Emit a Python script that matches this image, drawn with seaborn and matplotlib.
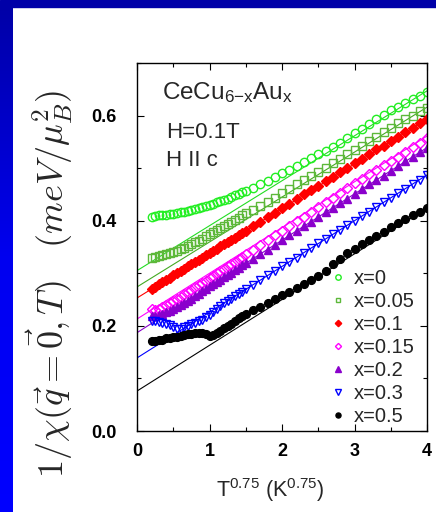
import numpy as np
import pandas as pd
import matplotlib
matplotlib.use("Agg")
import matplotlib.pyplot as plt
from matplotlib.colors import LinearSegmentedColormap
from matplotlib.patches import Rectangle
from matplotlib.ticker import MultipleLocator
import seaborn as sns


# ── Data ───────────────────────────────────────────────────────────────────────
# x axis: T^0.75 in K^0.75, shared by all samples
t075 = [0.20, 0.25, 0.30, 0.35, 0.40, 0.45, 0.50, 0.55, 0.60, 0.65, 0.70, 0.75, 0.80,
        0.85, 0.90, 0.95, 1.00, 1.05, 1.10, 1.15, 1.20, 1.25, 1.30, 1.35, 1.40, 1.45,
        1.50, 1.6, 1.7, 1.8, 1.9, 2.0, 2.1, 2.2, 2.3, 2.4, 2.5, 2.6, 2.7, 2.8, 2.9,
        3.0, 3.1, 3.2, 3.3, 3.4, 3.5, 3.6, 3.7, 3.8, 3.9, 4.0]

# 1/chi (meV/muB^2) for each Au content
inv_chi_x000 = [0.408, 0.409, 0.410, 0.410, 0.411, 0.412, 0.413, 0.414, 0.416, 0.417,
                0.419, 0.420, 0.422, 0.424, 0.426, 0.428, 0.430, 0.432, 0.435, 0.437,
                0.440, 0.442, 0.445, 0.448, 0.451, 0.454, 0.457, 0.463, 0.469, 0.476,
                0.483, 0.490, 0.497, 0.504, 0.511, 0.519, 0.526, 0.533, 0.541, 0.548,
                0.557, 0.566, 0.575, 0.584, 0.593, 0.602, 0.610, 0.617, 0.624, 0.631,
                0.638, 0.645]
inv_chi_x005 = [0.330, 0.331, 0.332, 0.334, 0.336, 0.338, 0.340, 0.343, 0.346, 0.349,
                0.352, 0.355, 0.359, 0.362, 0.366, 0.370, 0.374, 0.378, 0.382, 0.386,
                0.390, 0.394, 0.398, 0.402, 0.406, 0.410, 0.414, 0.421, 0.428, 0.436,
                0.444, 0.453, 0.461, 0.469, 0.477, 0.485, 0.493, 0.501, 0.509, 0.517,
                0.526, 0.534, 0.543, 0.551, 0.559, 0.568, 0.577, 0.585, 0.593, 0.600,
                0.608, 0.615]
inv_chi_x010 = [0.270, 0.274, 0.279, 0.283, 0.287, 0.291, 0.296, 0.300, 0.304, 0.308,
                0.313, 0.317, 0.321, 0.325, 0.330, 0.334, 0.338, 0.342, 0.347, 0.351,
                0.355, 0.359, 0.364, 0.368, 0.372, 0.376, 0.381, 0.389, 0.398, 0.407,
                0.415, 0.424, 0.432, 0.441, 0.451, 0.458, 0.466, 0.475, 0.483, 0.492,
                0.500, 0.509, 0.517, 0.526, 0.537, 0.543, 0.551, 0.560, 0.568, 0.577,
                0.585, 0.594]
inv_chi_x015 = [0.233, 0.231, 0.232, 0.235, 0.239, 0.243, 0.247, 0.251, 0.255, 0.260,
                0.264, 0.268, 0.273, 0.277, 0.282, 0.286, 0.291, 0.295, 0.300, 0.304,
                0.309, 0.313, 0.318, 0.322, 0.327, 0.331, 0.336, 0.345, 0.354, 0.363,
                0.372, 0.381, 0.390, 0.399, 0.408, 0.417, 0.426, 0.435, 0.444, 0.453,
                0.462, 0.471, 0.480, 0.488, 0.497, 0.506, 0.514, 0.522, 0.531, 0.540,
                0.548, 0.557]
inv_chi_x020 = [0.218, 0.219, 0.221, 0.223, 0.226, 0.229, 0.232, 0.236, 0.240, 0.244,
                0.248, 0.252, 0.257, 0.261, 0.266, 0.270, 0.275, 0.279, 0.284, 0.288,
                0.293, 0.297, 0.301, 0.306, 0.310, 0.315, 0.319, 0.328, 0.337, 0.345,
                0.354, 0.363, 0.372, 0.381, 0.389, 0.398, 0.407, 0.416, 0.425, 0.433,
                0.442, 0.451, 0.460, 0.469, 0.477, 0.486, 0.495, 0.504, 0.513, 0.521,
                0.530, 0.539]
inv_chi_x030 = [0.210, 0.209, 0.207, 0.206, 0.204, 0.201, 0.197, 0.194, 0.194, 0.197,
                0.200, 0.203, 0.206, 0.209, 0.212, 0.216, 0.221, 0.226, 0.232, 0.238,
                0.243, 0.248, 0.252, 0.257, 0.261, 0.265, 0.270, 0.278, 0.287, 0.296,
                0.304, 0.313, 0.322, 0.330, 0.339, 0.348, 0.357, 0.365, 0.374, 0.383,
                0.391, 0.400, 0.409, 0.417, 0.426, 0.435, 0.444, 0.452, 0.461, 0.470,
                0.478, 0.487]
inv_chi_x050 = [0.171, 0.172, 0.173, 0.174, 0.176, 0.177, 0.178, 0.179, 0.181, 0.182,
                0.184, 0.185, 0.186, 0.187, 0.187, 0.184, 0.181, 0.182, 0.186, 0.190,
                0.195, 0.199, 0.204, 0.209, 0.214, 0.218, 0.222, 0.230, 0.236, 0.244,
                0.251, 0.258, 0.265, 0.272, 0.280, 0.287, 0.295, 0.305, 0.318, 0.328,
                0.338, 0.347, 0.355, 0.363, 0.371, 0.379, 0.388, 0.396, 0.403, 0.410,
                0.417, 0.424]

# straight-line fits, value at T^0.75 = 0 and at T^0.75 = 4
fit_x = [0.0, 4.0]
fit_start = [0.305, 0.274, 0.253, 0.213, 0.187, 0.139, 0.076]
fit_end = [0.647, 0.616, 0.593, 0.561, 0.539, 0.487, 0.424]

labels = ["x=0", "x=0.05", "x=0.1", "x=0.15", "x=0.2", "x=0.3", "x=0.5"]
series = [inv_chi_x000, inv_chi_x005, inv_chi_x010, inv_chi_x015,
          inv_chi_x020, inv_chi_x030, inv_chi_x050]


# ── Style ──────────────────────────────────────────────────────────────────────
sns.set_style("ticks")
plt.rcParams["font.family"] = ["Liberation Sans", "DejaVu Sans"]
plt.rcParams["mathtext.fontset"] = "custom"
plt.rcParams["mathtext.rm"] = "Liberation Sans"
plt.rcParams["mathtext.it"] = "Liberation Sans:italic"

markers = ["o", "s", "D", "D", "^", "v", "o"]
colors = ["#22EE22", "#5DB83A", "#FF0000", "#FF00FF", "#8A00CC", "#0000FF", "#000000"]
line_colors = ["#22DD22", "#44AA22", "#FF0000", "#FF00FF", "#8A00CC", "#0000FF", "#000000"]
filled = [False, False, True, False, True, False, True]
msizes = [6.0, 5.4, 5.0, 4.8, 6.0, 6.0, 5.6]


# ── Figure ─────────────────────────────────────────────────────────────────────
fig = plt.figure(figsize=(4.36, 5.12), dpi=100)
fig.patch.set_facecolor("white")

# slide frame: dark blue band on top, blue gradient strip on the left
fig.patches.append(Rectangle((0, 1 - 7 / 512), 1, 7 / 512, transform=fig.transFigure,
                             color="#0000A8", zorder=0))
strip = fig.add_axes([0, 0, 12 / 436, 1 - 7 / 512])
blue_cmap = LinearSegmentedColormap.from_list("slide", ["#0000A8", "#0000F0", "#0000FF"])
strip.imshow(np.linspace(0, 1, 256).reshape(-1, 1), aspect="auto", cmap=blue_cmap)
strip.set_axis_off()

ax = fig.add_axes([137 / 436, 1 - 431 / 512, 290 / 436, 368 / 512])

# fit lines first, data on top
for y0, y1, lc in zip(fit_start, fit_end, line_colors):
    sns.lineplot(x=fit_x, y=[y0, y1], color=lc, linewidth=0.8, ax=ax, legend=False)

for lab, ys, mk, c, fl, ms in zip(labels, series, markers, colors, filled, msizes):
    df = pd.DataFrame({"t": t075, "y": ys})
    sns.lineplot(data=df, x="t", y="y", ax=ax, linestyle="", marker=mk,
                 markersize=ms, color=c, markerfacecolor=c if fl else "none",
                 markeredgecolor=c, markeredgewidth=1.0, label=lab)

ax.set_xlim(0, 4)
ax.set_ylim(0, 0.7)
ax.xaxis.set_major_locator(MultipleLocator(1))
ax.xaxis.set_minor_locator(MultipleLocator(0.5))
ax.yaxis.set_minor_locator(MultipleLocator(0.1))
ax.set_yticks([0, 0.2, 0.4, 0.6])
ax.set_yticklabels(["0.0", "0.2", "0.4", "0.6"])
ax.tick_params(which="both", direction="in", top=True, right=True, width=0.8,
               colors="black")
ax.tick_params(which="major", length=5)
ax.tick_params(which="minor", length=3)
ax.tick_params(axis="x", which="major", pad=9, labelsize=13)
ax.tick_params(axis="y", which="major", pad=15, labelsize=13)
for lbl in ax.get_xticklabels() + ax.get_yticklabels():
    lbl.set_fontweight("bold")
for sp in ax.spines.values():
    sp.set_visible(True)
    sp.set_color("black")
    sp.set_linewidth(1.0)

ax.set_xlabel("")
ax.set_ylabel("")
fig.text(270 / 436, 1 - 490 / 512, r"T$^{\mathregular{0.75}}$ (K$^{\mathregular{0.75}}$)",
         ha="center", va="center", fontsize=15.5)
fig.text(50 / 436, 1 - 284 / 512,
         r"$1/\chi(\vec{q}=\vec{0},T)\quad(meV/\mu_B^2)$",
         rotation=90, ha="center", va="center", fontsize=26, math_fontfamily="cm")

ax.text(0.085, 0.921, r"CeCu$_{\mathregular{6{-}x}}$Au$_{\mathregular{x}}$",
        transform=ax.transAxes, fontsize=17.5, va="center")
ax.text(0.10, 0.812, "H=0.1T", transform=ax.transAxes, fontsize=16, va="center")
ax.text(0.10, 0.736, "H II c", transform=ax.transAxes, fontsize=16, va="center")

handles, hlabels = ax.get_legend_handles_labels()
ax.legend(handles, hlabels, loc="upper left", bbox_to_anchor=(0.665, 0.44),
          frameon=False, fontsize=14.5, markerscale=0.65, handlelength=0.8,
          handletextpad=0.4, labelspacing=0.2, borderpad=0, borderaxespad=0)

fig.savefig("out.png", dpi=100)
